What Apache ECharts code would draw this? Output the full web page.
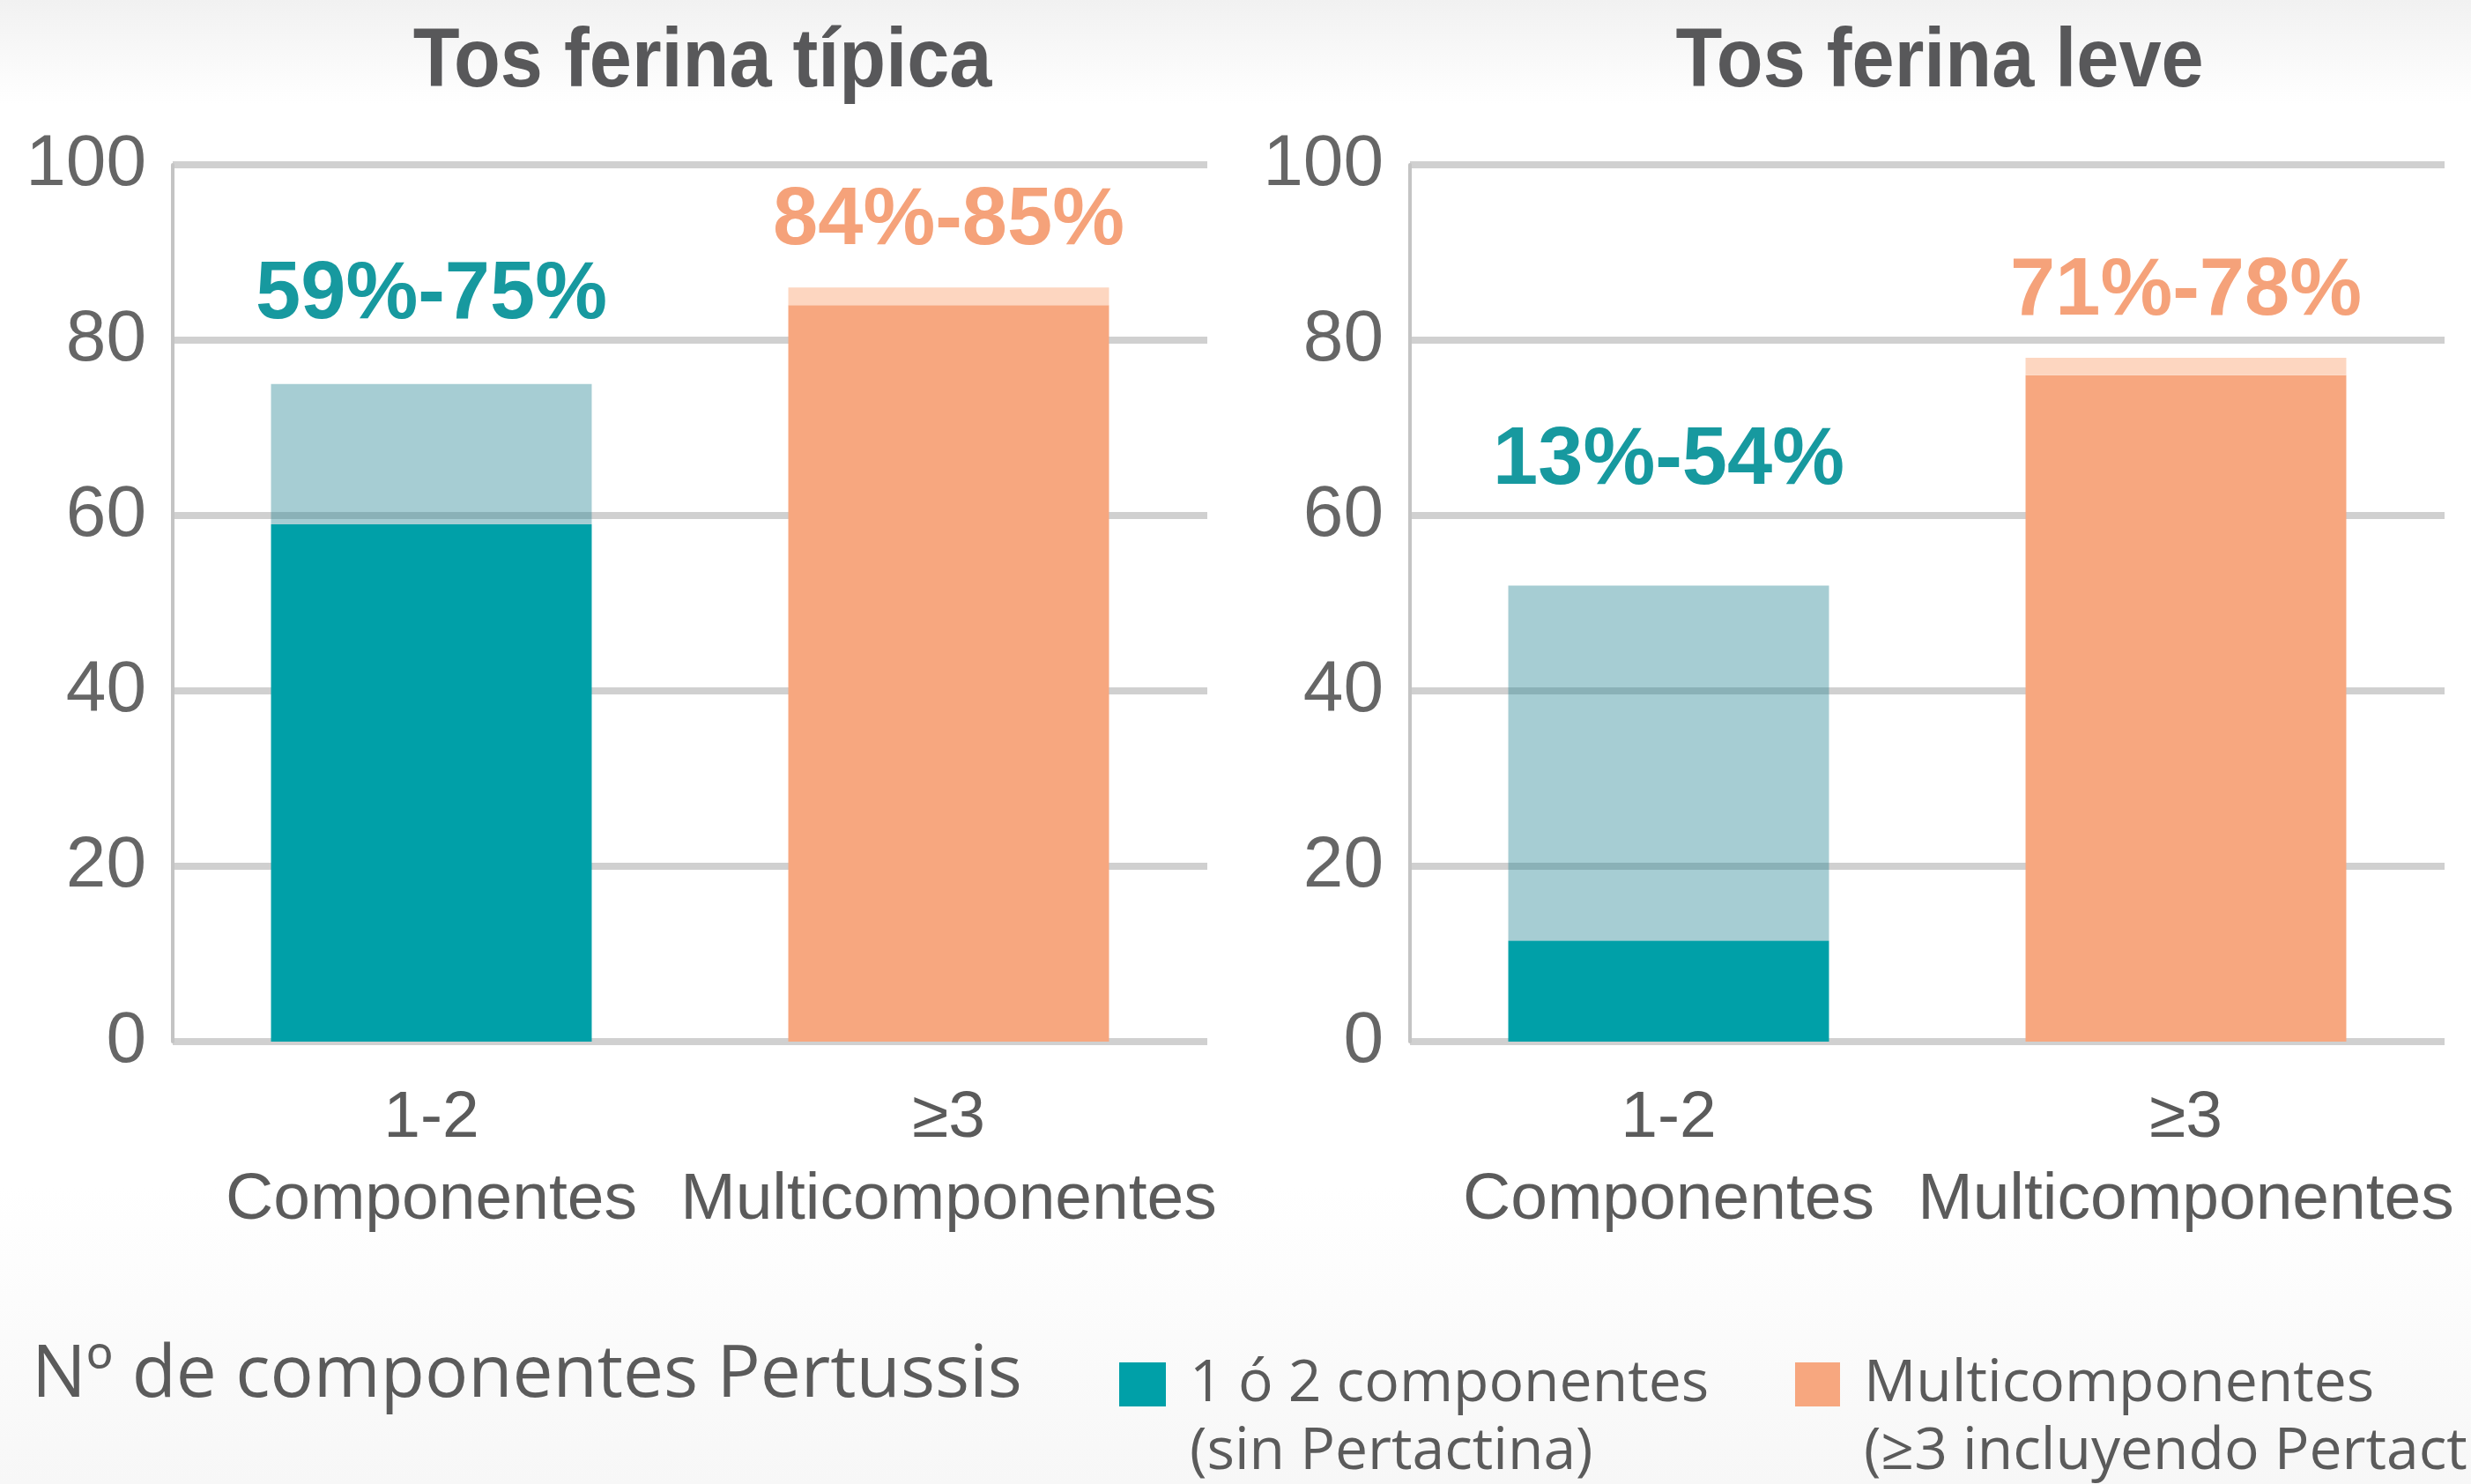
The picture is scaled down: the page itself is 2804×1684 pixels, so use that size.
<!DOCTYPE html>
<html lang="es">
<head>
    <meta charset="UTF-8">
    <title>Tos ferina</title>
    <style>
        html,body{margin:0;padding:0;}
        #main{width:2804px;height:1684px;}
    </style>
    <script type="text/javascript" src="https://cdn.jsdelivr.net/npm/echarts@6/dist/echarts.min.js"></script>
</head>
<body>
<div id="main"></div>
</body>
<script>
    // datos
    let categories=['1-2\nComponentes','≥3\nMulticomponentes'];
    let tipicaLow=[59,84];
    let tipicaHigh=[75,86];
    let leveLow=[11.5,76];
    let leveHigh=[52,78];
    let tipicaLabels=['59%-75%','84%-85%'];
    let leveLabels=['13%-54%','71%-78%'];

    const teal='#00a0a8';
    const tealLight='rgba(32,130,145,0.4)';
    const orange='#f7a77f';
    const orangeLight='#fdd6c0';
    const sans='"Liberation Sans",Arial,sans-serif';

    // desplazamiento vertical de cada etiqueta de porcentaje
    let tipicaOffsets=[-49,-24];
    let leveOffsets=[-90,-23];

    let chart=echarts.init(document.getElementById('main'));

    function seriesFor(gridIdx,low,high,labels,offsets){
        let out=[];
        let colors=[[teal,tealLight],[orange,orangeLight]];
        let names=['1 ó 2 componentes','Multicomponentes'];
        for(let i=0;i<2;i++){
            let base=categories.map((c,j)=>j===i?low[j]:'-');
            let range=categories.map((c,j)=>j===i?{
                value:+(high[j]-low[j]).toFixed(2),
                label:{
                    show:true,
                    position:'top',
                    offset:[0,offsets[j]],
                    formatter:labels[j],
                    color:i===0?'#17999f':'#f5a27a',
                    fontSize:92,
                    fontWeight:'bold',
                    fontFamily:sans
                }
            }:'-');
            out.push({
                type:'bar',name:names[i],stack:'s'+gridIdx,
                xAxisIndex:gridIdx,yAxisIndex:gridIdx,
                barWidth:'62%',data:base,
                itemStyle:{color:colors[i][0]},silent:true
            });
            out.push({
                type:'bar',name:'rango '+i,stack:'s'+gridIdx,
                xAxisIndex:gridIdx,yAxisIndex:gridIdx,
                barWidth:'62%',data:range,
                itemStyle:{color:colors[i][1]},silent:true
            });
        }
        return out;
    }

    function yAxisFor(gridIdx){
        return {
            type:'value',gridIndex:gridIdx,min:0,max:100,interval:20,
            axisLine:{show:true,lineStyle:{color:'#c4c4c4',width:4}},
            axisTick:{show:false},
            axisLabel:{
                margin:30,fontSize:82,color:'#666666',
                fontFamily:sans
            },
            splitLine:{lineStyle:{color:'#d0d0d0',width:8}}
        };
    }

    function xAxisFor(gridIdx){
        return {
            type:'category',gridIndex:gridIdx,data:categories,
            axisLine:{show:false},axisTick:{show:false},
            axisLabel:{
                margin:41,fontSize:75,lineHeight:93,color:'#5b5b5b',
                fontFamily:sans,interval:0
            }
        };
    }

    let option={
        backgroundColor:{
            type:'linear',x:0,y:0,x2:0,y2:1,
            colorStops:[
                {offset:0,color:'#f1f1f1'},
                {offset:0.07,color:'#ffffff'},
                {offset:0.8,color:'#ffffff'},
                {offset:1,color:'#f7f7f7'}
            ]
        },
        animation:false,
        grid:[
            {left:196,top:187,width:1174,height:995,outerBoundsMode:'none'},
            {left:1600,top:187,width:1174,height:995,outerBoundsMode:'none'}
        ],
        xAxis:[xAxisFor(0),xAxisFor(1)],
        yAxis:[yAxisFor(0),yAxisFor(1)],
        legend:[
            {
                left:1270,top:1538,padding:0,
                itemWidth:53,itemHeight:50,
                data:['1 ó 2 componentes'],selectedMode:false,
                icon:'rect',
                textStyle:{fontSize:66,color:'#5b5b5b',fontFamily:'"Open Sans",sans-serif',padding:[0,0,0,22]}
            },
            {
                left:2037,top:1538,padding:0,
                itemWidth:51,itemHeight:50,
                data:['Multicomponentes'],selectedMode:false,
                icon:'rect',
                textStyle:{fontSize:66,color:'#5b5b5b',fontFamily:'"Open Sans",sans-serif',padding:[0,0,0,22]}
            }
        ],
        graphic:[
            {type:'text',x:797,y:72,scaleX:0.92,style:{text:'Tos ferina típica',fill:'#58585a',
                font:'bold 94px '+sans,textAlign:'center',textVerticalAlign:'middle'}},
            {type:'text',x:2201,y:72,scaleX:0.92,style:{text:'Tos ferina leve',fill:'#58585a',
                font:'bold 94px '+sans,textAlign:'center',textVerticalAlign:'middle'}},
            {type:'text',x:36,y:1562,style:{text:'Nº de componentes Pertussis',fill:'#5b5b5b',
                font:'82px "Open Sans",sans-serif',textVerticalAlign:'middle'}},
            {type:'text',x:1350,y:1648,style:{text:'(sin Pertactina)',fill:'#5b5b5b',
                font:'66px "Open Sans",sans-serif',textVerticalAlign:'middle'}},
            {type:'text',x:2115,y:1648,style:{text:'(≥3 incluyendo Pertactina)',fill:'#5b5b5b',
                font:'66px "Open Sans",sans-serif',textVerticalAlign:'middle'}}
        ],
        series:[].concat(
            seriesFor(0,tipicaLow,tipicaHigh,tipicaLabels,tipicaOffsets),
            seriesFor(1,leveLow,leveHigh,leveLabels,leveOffsets)
        )
    };
    chart.setOption(option);
</script>
</html>
